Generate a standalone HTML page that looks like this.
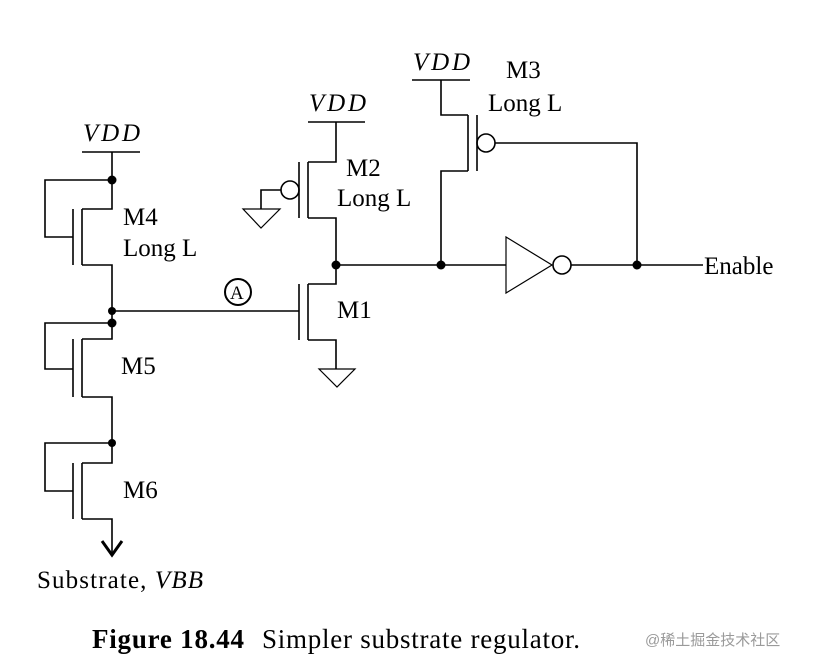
<!DOCTYPE html>
<html><head><meta charset="utf-8"><style>
body{margin:0;background:#fff;}
svg{display:block;font-family:"Liberation Serif",serif;}
</style></head><body>
<svg width="819" height="670" viewBox="0 0 819 670" xmlns="http://www.w3.org/2000/svg">
<g stroke="#000" stroke-width="1.6" fill="none">
<line x1="82" y1="152" x2="140" y2="152"/>
<polyline points="112,152 112,209 82,209"/>
<line x1="82" y1="209" x2="82" y2="265"/>
<line x1="73" y1="209" x2="73" y2="265"/>
<polyline points="112,180 45,180 45,237 73,237"/>
<polyline points="82,265 112,265 112,339 82,339"/>
<line x1="82" y1="339" x2="82" y2="397"/>
<line x1="73" y1="339" x2="73" y2="397"/>
<polyline points="112,323 45,323 45,369 73,369"/>
<polyline points="82,397 112,397 112,463 82,463"/>
<line x1="82" y1="463" x2="82" y2="519"/>
<line x1="73" y1="463" x2="73" y2="519"/>
<polyline points="112,443 45,443 45,491 73,491"/>
<polyline points="82,519 112,519 112,555"/>
<polyline points="102,541 112,555 122,541" stroke-width="3"/>
<line x1="112" y1="311" x2="299" y2="311"/>
<line x1="299" y1="284" x2="299" y2="340"/>
<line x1="308" y1="284" x2="308" y2="340"/>
<polyline points="308,284 336,284 336,218 308,218"/>
<polyline points="308,340 336,340 336,369"/>
<polygon points="319,369 355,369 337,387" stroke-width="1.2"/>
<line x1="308" y1="122" x2="365" y2="122"/>
<polyline points="336,122 336,162 308,162"/>
<line x1="308" y1="162" x2="308" y2="218"/>
<line x1="299" y1="162" x2="299" y2="218"/>
<circle cx="290" cy="190" r="9"/>
<polyline points="281,190 261,190 261,209"/>
<polygon points="243,209 280,209 261,228" stroke-width="1.2"/>
<line x1="336" y1="265" x2="506" y2="265"/>
<line x1="412" y1="80" x2="470" y2="80"/>
<polyline points="441,80 441,115 468,115"/>
<line x1="468" y1="115" x2="468" y2="171"/>
<line x1="477" y1="115" x2="477" y2="171"/>
<polyline points="468,171 441,171 441,265"/>
<circle cx="486" cy="143" r="9"/>
<polyline points="495,143 637,143 637,265"/>
<polygon points="506,237 506,293 552,265" stroke-width="1.2"/>
<circle cx="562" cy="265" r="9"/>
<line x1="571" y1="265" x2="703" y2="265"/>
<circle cx="238" cy="292" r="13" stroke-width="2"/>
</g>
<g fill="#000">
<circle cx="112" cy="180" r="4.5"/>
<circle cx="112" cy="311" r="4"/>
<circle cx="112" cy="323" r="4.5"/>
<circle cx="112" cy="443" r="4"/>
<circle cx="336" cy="265" r="4.5"/>
<circle cx="441" cy="265" r="4.5"/>
<circle cx="637" cy="265" r="4.5"/>
</g>
<g font-size="25" fill="#000">
<text x="83" y="141" font-style="italic" textLength="57">VDD</text>
<text x="309" y="111" font-style="italic" textLength="57">VDD</text>
<text x="413" y="70" font-style="italic" textLength="57">VDD</text>
<text x="123" y="225">M4</text>
<text x="123" y="256">Long L</text>
<text x="346" y="176">M2</text>
<text x="337" y="206">Long L</text>
<text x="506" y="78">M3</text>
<text x="488" y="111">Long L</text>
<text x="337" y="318">M1</text>
<text x="121" y="374">M5</text>
<text x="123" y="498">M6</text>
<text x="704" y="274">Enable</text>
<text x="230" y="299" font-size="19">A</text>
<text x="37" y="588" textLength="166">Substrate, <tspan font-style="italic">VBB</tspan></text>
<text x="92" y="648" font-size="27" font-weight="bold" textLength="152">Figure 18.44</text>
<text x="262" y="648" font-size="27" textLength="318">Simpler substrate regulator.</text>
</g>
<text x="645" y="645" font-size="15" fill="#9a9a9a" font-family="'Liberation Sans','Noto Sans CJK SC',sans-serif">@稀土掘金技术社区</text>
</svg>
</body></html>
